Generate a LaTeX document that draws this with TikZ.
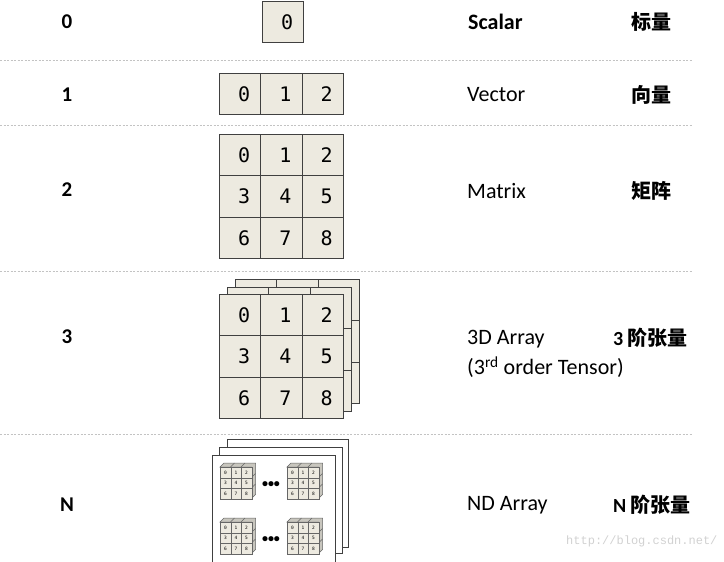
\documentclass[tikz,border=0pt]{standalone}
\usepackage{fontspec}
\usepackage{tikz}
\setmainfont{Carlito}
\newfontfamily\cjk{Noto Sans CJK SC}
\newfontfamily\cellfont{DejaVu Sans Mono}
\newfontfamily\urlfont{Liberation Mono}
\definecolor{cellfill}{RGB}{237,234,224}
\definecolor{cellline}{RGB}{64,64,64}
\definecolor{sepline}{RGB}{195,195,195}
\definecolor{cubeside}{RGB}{200,198,190}
\tikzset{
  cellbox/.style={draw=cellline, fill=cellfill, line width=1pt, minimum size=41.3pt, inner sep=0pt,
    anchor=north west, font=\cellfont\fontsize{20}{20}\selectfont, execute at begin node={\kern8pt}},
  minicell/.style={draw=cellline!80, fill=cellfill, line width=0.5pt, minimum size=10.5pt, inner sep=0pt,
    anchor=north west, font=\cellfont\fontsize{4.5}{5}\selectfont},
  sheet/.style={draw=cellline, fill=white, line width=1pt},
  rank/.style={inner sep=0pt, font=\bfseries\fontsize{21}{21}\selectfont},
  kind/.style={anchor=west, inner sep=0pt, font=\fontsize{22}{24}\selectfont},
  zh/.style={anchor=west, inner sep=0pt, font=\bfseries\fontsize{20}{20}\selectfont},
  rowsep/.style={draw=sepline, dash pattern=on 2pt off 1.5pt, line width=1pt}
}
\begin{document}
\begin{tikzpicture}[x=1pt, y=-1pt]
      \useasboundingbox (0,0) rectangle (724,562);
      \draw[rowsep] (0,60) -- (693,60);
      \draw[rowsep] (0,125) -- (693,125);
      \draw[rowsep] (0,271) -- (693,271);
      \draw[rowsep] (0,434) -- (693,434);
      \node[rank] (r0) at (67,22) {0};
      \node[rank] (r1) at (67,95) {1};
      \node[rank] (r2) at (67,190) {2};
      \node[rank] (r3) at (67,337) {3};
      \node[rank] (rn) at (67,505) {N};
      \node[cellbox] (s-0) at (262,1) {0};
      \foreach \j in {0,1,2}
        \node[cellbox] (v-\j) at ({219+41.3*\j},73) {\j};
      \foreach \i in {0,1,2}
        \foreach \j in {0,1,2} {
          \pgfmathtruncatemacro\k{3*\i+\j}
          \node[cellbox] (m-\i-\j) at ({219+41.3*\j},{134+41.3*\i}) {\k};
        }
      \foreach \i in {0,1,2}
        \foreach \j in {0,1,2}
          \node[cellbox] (tb-\i-\j) at ({235+41.3*\j},{279+41.3*\i}) {};
      \foreach \i in {0,1,2}
        \foreach \j in {0,1,2}
          \node[cellbox] (tm-\i-\j) at ({227+41.3*\j},{287+41.3*\i}) {};
      \foreach \i in {0,1,2}
        \foreach \j in {0,1,2} {
          \pgfmathtruncatemacro\k{3*\i+\j}
          \node[cellbox] (tf-\i-\j) at ({219+41.3*\j},{294+41.3*\i}) {\k};
        }
      \draw[sheet] (227,439) rectangle (348,547);
      \draw[sheet] (219,447) rectangle (342,553);
      \draw[sheet] (212,455) rectangle (335,575);
      \foreach \cx/\cy/\n in {220/467/a, 287/467/b, 220/522/c, 287/522/d} {
        \draw[line width=0.5pt, draw=cellline!80, fill=cubeside] (\cx,\cy) -- ++(4,-4) -- ++(31.5,0) -- ++(0,31.5) -- ++(-4,4) -- ++(0,-31.5) -- cycle;
        \foreach \t in {1,2} {
          \draw[line width=0.5pt, draw=cellline!80] ({\cx+10.5*\t},\cy) -- ++(4,-4);
          \draw[line width=0.5pt, draw=cellline!80] ({\cx+31.5},{\cy+10.5*\t}) -- ++(4,-4);
        }
        \foreach \i in {0,1,2}
          \foreach \j in {0,1,2} {
            \pgfmathtruncatemacro\k{3*\i+\j}
            \node[minicell] (c\n-\i-\j) at ({\cx+10.5*\j},{\cy+10.5*\i}) {\k};
          }
      }
      \node[font=\bfseries\fontsize{12}{12}\selectfont] (dots-top) at (271,485) {\textbullet\textbullet\textbullet};
      \node[font=\bfseries\fontsize{12}{12}\selectfont] (dots-bot) at (271,540) {\textbullet\textbullet\textbullet};
      \node[kind] (k0) at (468,22) {\bfseries Scalar};
      \node[kind] (k1) at (467,95) {Vector};
      \node[kind] (k2) at (467,191) {Matrix};
      \node[kind] (k3) at (467,339) {3D Array};
      \node[kind] (k3b) at (467,367) {(3\textsuperscript{rd} order Tensor)};
      \node[kind] (kn) at (467,505) {ND Array};
      \node[zh] (z0) at (631,22) {\cjk 标量};
      \node[zh] (z1) at (631,95) {\cjk 向量};
      \node[zh] (z2) at (631,191) {\cjk 矩阵};
      \node[zh] (z3) at (613,338) {3 {\cjk 阶张量}};
      \node[zh] (zn) at (613,505) {N {\cjk 阶张量}};
      \node[anchor=west, inner sep=0pt, text=black!18, font=\urlfont\fontsize{12}{12}\selectfont] (wm) at (566,541) {http://blog.csdn.net/};
    \end{tikzpicture}
\end{document}
